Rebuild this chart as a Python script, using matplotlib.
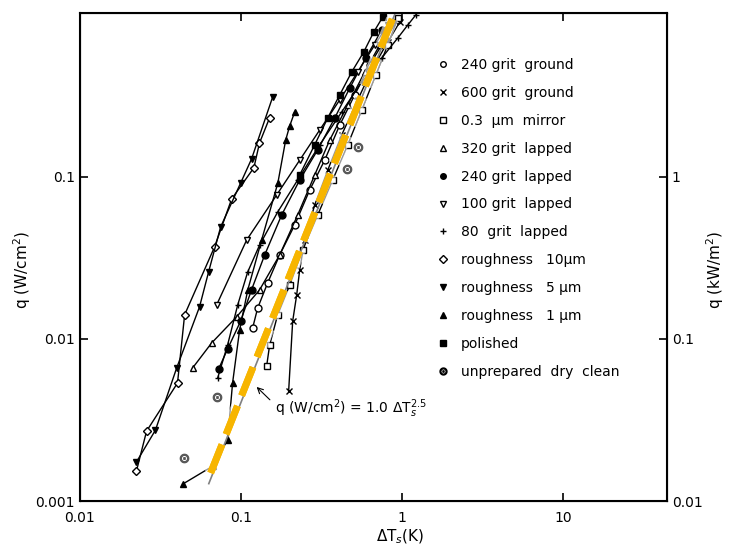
import matplotlib.pyplot as plt
import matplotlib.patheffects as pe
from matplotlib.lines import Line2D

# surface finish series: wall superheat dT (K) and heat flux q (W/cm2)
g240_dt = [0.1179, 0.1266, 0.1461, 0.1734, 0.2149, 0.2664, 0.330, 0.409, 0.507, 0.628, 0.778, 0.938]
g240_q = [0.0117, 0.0155, 0.0222, 0.0330, 0.0505, 0.0831, 0.127, 0.209, 0.321, 0.491, 0.701, 0.931]

g600_dt = [0.1972, 0.2089, 0.2212, 0.2309, 0.248, 0.2861, 0.3445, 0.421, 0.529, 0.6464, 0.8128, 0.965]
g600_q = [0.00477, 0.0129, 0.0187, 0.0267, 0.0408, 0.0672, 0.110, 0.182, 0.299, 0.458, 0.681, 0.905]

mirror_dt = [0.1440, 0.1503, 0.1686, 0.2001, 0.241, 0.2987, 0.370, 0.4586, 0.5603, 0.6845, 0.8128, 0.938]
mirror_q = [0.00681, 0.00918, 0.0141, 0.0215, 0.0354, 0.0583, 0.0958, 0.158, 0.259, 0.426, 0.653, 0.958]

l320_dt = [0.04996, 0.0656, 0.0938, 0.1302, 0.1734, 0.2244, 0.2861, 0.3546, 0.4586, 0.585, 0.7249, 0.861]
l320_q = [0.00662, 0.00945, 0.0137, 0.0201, 0.0330, 0.0583, 0.1029, 0.169, 0.278, 0.445, 0.653, 0.905]

l240_dt = [0.0725, 0.0824, 0.0993, 0.116, 0.140, 0.1785, 0.2309, 0.2987, 0.3809, 0.472, 0.5934, 0.746]
l240_q = [0.00653, 0.00867, 0.0129, 0.0201, 0.0330, 0.0583, 0.0958, 0.147, 0.231, 0.354, 0.543, 0.808]

l100_dt = [0.0704, 0.1082, 0.1661, 0.2309, 0.3073, 0.4091, 0.529, 0.6748, 0.8128]
l100_q = [0.0162, 0.0408, 0.0774, 0.127, 0.195, 0.299, 0.445, 0.653, 0.867]

l80_dt = [0.0715, 0.0824, 0.0952, 0.1098, 0.1302, 0.1686, 0.2244, 0.3073, 0.421, 0.5603, 0.746, 0.938, 1.082, 1.213]
l80_q = [0.00574, 0.00918, 0.0162, 0.0259, 0.0380, 0.0608, 0.0958, 0.158, 0.252, 0.386, 0.543, 0.721, 0.867, 1.0]

r10_dt = [0.0224, 0.0259, 0.0403, 0.0446, 0.0684, 0.0873, 0.120, 0.130, 0.150]
r10_q = [0.00153, 0.0027, 0.00535, 0.0141, 0.037, 0.0731, 0.114, 0.162, 0.231]

r5_dt = [0.0224, 0.0294, 0.0398, 0.0552, 0.0628, 0.0746, 0.0993, 0.116, 0.157]
r5_q = [0.00174, 0.00274, 0.00662, 0.0158, 0.0259, 0.0491, 0.0918, 0.129, 0.312]

r1_dt = [0.0433, 0.0665, 0.0824, 0.0885, 0.0979, 0.110, 0.134, 0.169, 0.189, 0.200, 0.215]
r1_q = [0.00127, 0.00164, 0.00238, 0.00535, 0.0114, 0.0201, 0.0408, 0.0918, 0.169, 0.206, 0.252]

pol_dt = [0.2309, 0.2861, 0.3445, 0.4091, 0.4857, 0.5767, 0.6653, 0.7568]
pol_q = [0.1029, 0.158, 0.231, 0.321, 0.445, 0.591, 0.785, 0.972]

dry_dt = [0.0439, 0.0704, 0.4521, 0.529]
dry_q = [0.00184, 0.00439, 0.112, 0.153]

# correlation q = 1.0 dT^2.5 as drawn (end points)
fit_dt = [0.0647, 0.898]
fit_q = [0.00149, 1.03]
orig_dt = [0.0630, 0.93]
orig_q = [0.00128, 1.10]

fig = plt.figure(figsize=(7.31, 5.49), dpi=100)
ax = fig.add_axes([0.1094, 0.0874, 0.803, 0.8889])
ax.set_xscale('log')
ax.set_yscale('log')
ax.set_xlim(0.01, 43.9)
ax.set_ylim(0.001, 1.028)

# each series: data, marker, filled?, label
series = [
    (g240_dt, g240_q, 'o', False, '240 grit  ground'),
    (g600_dt, g600_q, 'x', False, '600 grit  ground'),
    (mirror_dt, mirror_q, 's', False, '0.3  μm  mirror'),
    (l320_dt, l320_q, '^', False, '320 grit  lapped'),
    (l240_dt, l240_q, 'o', True, '240 grit  lapped'),
    (l100_dt, l100_q, 'v', False, '100 grit  lapped'),
    (l80_dt, l80_q, '+', False, '80  grit  lapped'),
    (r10_dt, r10_q, 'D', False, 'roughness   10μm'),
    (r5_dt, r5_q, 'v', True, 'roughness   5 μm'),
    (r1_dt, r1_q, '^', True, 'roughness   1 μm'),
    (pol_dt, pol_q, 's', True, 'polished'),
]

handles = []
for dt, q, mk, filled, lab in series:
    fc = 'black' if filled else 'white'
    ms = 4 if mk in ('s', 'D') else 5
    ax.plot(dt, q, color='black', lw=1.0, marker=mk, ms=ms, mfc=fc, mec='black', mew=1.0)
    handles.append(Line2D([], [], ls='none', marker=mk, ms=4, mfc=fc, mec='black', mew=1.0, label=lab))

ax.plot(dry_dt, dry_q, ls='none', marker=r'$\odot$', ms=6, color='0.35')
handles.append(Line2D([], [], ls='none', marker=r'$\odot$', ms=5, color='black', label='unprepared  dry  clean'))

# original correlation line and the highlighted dashed overlay
ax.plot(orig_dt, orig_q, color='0.5', lw=1.2)
ax.plot(fit_dt, fit_q, color='#F7B500', lw=5, dashes=(4.4, 1.6), solid_capstyle='butt',
        path_effects=[pe.withStroke(linewidth=9, foreground='white', alpha=0.6), pe.Normal()])

ax.annotate(r'q (W/cm$^2$) = 1.0 ΔT$_s^{2.5}$', xy=(0.1213, 0.0052), xytext=(0.1615, 0.0037),
            fontsize=10, va='center', ha='left',
            arrowprops=dict(arrowstyle='->', color='black', lw=0.8, relpos=(0, 0.7)))

leg = ax.legend(handles=handles, loc='upper left', bbox_to_anchor=(0.587, 0.907),
                bbox_transform=fig.transFigure, frameon=False, fontsize=10,
                handlelength=1.0, handletextpad=0.8, labelspacing=1.0, borderpad=0)

ax.set_xticks([0.01, 0.1, 1, 10])
ax.set_xticklabels(['0.01', '0.1', '1', '10'])
ax.set_yticks([0.001, 0.01, 0.1])
ax.set_yticklabels(['0.001', '0.01', '0.1'])
ax.minorticks_off()
ax.tick_params(direction='in', length=6, width=1.2, labelsize=10, top=True, right=False)
ax.tick_params(axis='x', pad=7)
for s in ax.spines.values():
    s.set_linewidth(1.5)

ax2 = ax.twinx()
ax2.set_yscale('log')
ax2.set_ylim(0.01, 10.28)
ax2.set_yticks([0.01, 0.1, 1])
ax2.set_yticklabels(['0.01', '0.1', '1'])
ax2.minorticks_off()
ax2.tick_params(direction='in', length=6, width=1.2, labelsize=10)

ax.set_xlabel(r'ΔT$_s$(K)', fontsize=11)
ax.set_ylabel(r'q (W/cm$^2$)', fontsize=11)
ax2.set_ylabel(r'q (kW/m$^2$)', fontsize=11)
ax.xaxis.set_label_coords(0.545, -0.055)
ax.yaxis.set_label_coords(-0.080, 0.473)
ax2.yaxis.set_label_coords(1.063, 0.473)

fig.savefig('out.png', dpi=100)
